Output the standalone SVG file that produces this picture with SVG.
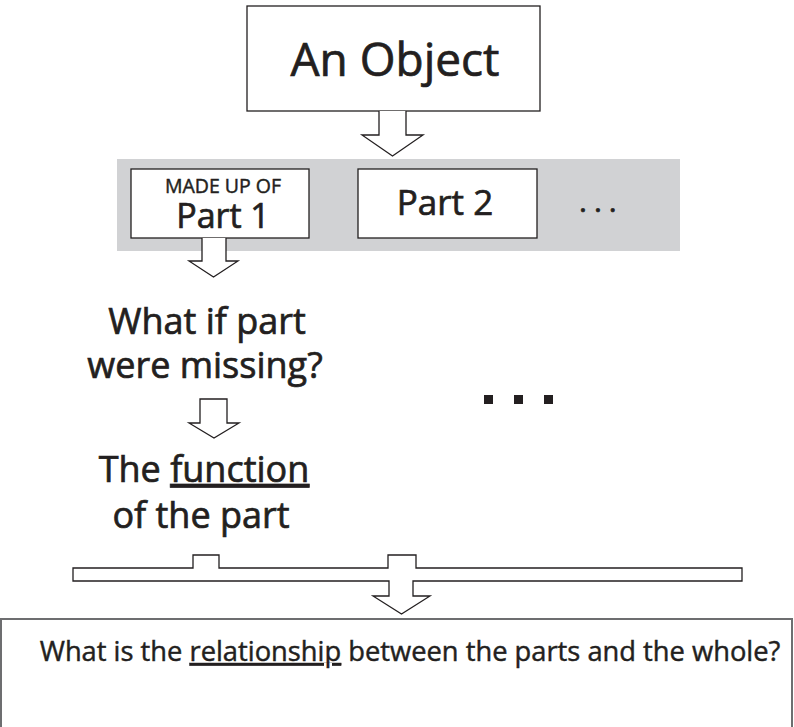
<svg xmlns="http://www.w3.org/2000/svg" width="794" height="727" viewBox="0 0 794 727">
  <style>
    text { font-family: "Open Sans", "Noto Sans", "Liberation Sans", sans-serif; fill: #231f20; stroke: #231f20; stroke-width: 0.7; }
    text.sm { stroke-width: 0.45; }
    .box { fill: #ffffff; stroke: #231f20; stroke-width: 1.3; }
    .arrow { fill: #ffffff; stroke: #231f20; stroke-width: 1.3; stroke-linejoin: miter; }
    .mid { text-anchor: middle; }
    .u { text-decoration: underline; }
  </style>

  <!-- top object -->
  <g id="object">
    <rect class="box" x="247" y="6" width="293" height="105"/>
    <text class="mid" x="395" y="76" font-size="46">An Object</text>
  </g>

  <!-- band holding the parts -->
  <g id="parts-band">
    <rect x="117" y="159" width="563" height="92" fill="#d1d2d4"/>
  </g>

  <g id="part1">
    <rect class="box" x="131" y="169" width="178" height="69"/>
    <text class="mid sm" x="223" y="193" font-size="19.5">MADE UP OF</text>
    <text class="mid" x="223" y="228" font-size="34">Part 1</text>
  </g>

  <g id="part2">
    <rect class="box" x="358" y="169" width="179" height="69"/>
    <text class="mid" x="445" y="215" font-size="35">Part 2</text>
  </g>

  <g id="more-parts">
    <text x="579" y="212" font-size="30" letter-spacing="7">...</text>
  </g>

  <g id="question">
    <text class="mid" x="207" y="334" font-size="36">What if part</text>
    <text class="mid" x="205" y="378" font-size="36">were missing?</text>
  </g>

  <g id="function">
    <text class="mid" x="204" y="482" font-size="36">The <tspan class="u">function</tspan></text>
    <text class="mid" x="201" y="528" font-size="36">of the part</text>
  </g>

  <g id="more-functions">
    <rect x="484" y="395" width="9" height="9" fill="#231f20"/>
    <rect x="514" y="395" width="9" height="9" fill="#231f20"/>
    <rect x="544" y="395" width="9" height="9" fill="#231f20"/>
  </g>

  <g id="relationship">
    <rect x="1" y="619" width="791" height="130" fill="#ffffff" stroke="#6d6e70" stroke-width="2"/>
    <text class="mid sm" x="410" y="661" font-size="27.3">What is the <tspan class="u">relationship</tspan> between the parts and the whole?</text>
  </g>

  <!-- block arrows and the collecting bar -->
  <g id="connectors">
    <path class="arrow" d="M379,111 V135 H362 L392.5,156 L423,135 H406 V111"/>
    <path class="arrow" d="M202,238 V261 H189 L213.5,277 L238,261 H226 V238"/>
    <path class="arrow" d="M200,399 V423 H189 L214,438 L239,423 H227 V399 Z"/>
    <path class="arrow" d="M73,568 H193 V555 H219 V568 H388 V555 H416 V568 H742 V581 H413 V596 H430 L401.5,614 L373,596 H389 V581 H73 Z"/>
  </g>
</svg>
